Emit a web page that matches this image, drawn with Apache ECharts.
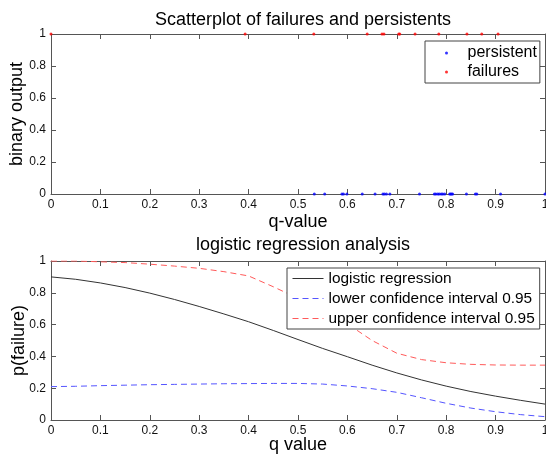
<!DOCTYPE html>
<html><head><meta charset="utf-8">
<script src="https://cdn.jsdelivr.net/npm/echarts@6/dist/echarts.min.js"></script>
<style>html,body{margin:0;padding:0;background:#fff}#c{width:546px;height:460px}</style>
</head><body><div id="c"></div>
<script>
// Top panel: q-values of observations
var failureQ = [0.0, 0.393, 0.532, 0.640, 0.670, 0.674, 0.704, 0.706, 0.737, 0.785, 0.842, 0.872, 0.905];
var persistentQ = [0.533, 0.554, 0.589, 0.592, 0.599, 0.630, 0.656, 0.672, 0.675, 0.679, 0.686, 0.746, 0.776, 0.779, 0.783, 0.786, 0.790, 0.793, 0.797, 0.807, 0.809, 0.811, 0.813, 0.841, 0.859, 0.862, 0.910, 1.0];
// Bottom panel: curves
var qGrid = [0, 0.05, 0.1, 0.15, 0.2, 0.25, 0.3, 0.35, 0.4, 0.45, 0.5, 0.55, 0.6, 0.65, 0.7, 0.75, 0.8, 0.85, 0.9, 0.95, 1.0];
var logisticP = [0.90, 0.885, 0.862, 0.833, 0.798, 0.758, 0.714, 0.667, 0.618, 0.563, 0.506, 0.450, 0.398, 0.345, 0.296, 0.252, 0.213, 0.179, 0.150, 0.124, 0.100];
var lowerCI = [0.210, 0.212, 0.216, 0.219, 0.222, 0.224, 0.226, 0.228, 0.229, 0.230, 0.230, 0.226, 0.214, 0.197, 0.174, 0.140, 0.105, 0.075, 0.052, 0.034, 0.021];
var upperCI = [1.0, 1.0, 0.995, 0.990, 0.980, 0.968, 0.954, 0.933, 0.906, 0.838, 0.765, 0.690, 0.605, 0.500, 0.420, 0.380, 0.360, 0.350, 0.346, 0.345, 0.345];
var xTicks = [0, 0.1, 0.2, 0.3, 0.4, 0.5, 0.6, 0.7, 0.8, 0.9, 1];
var yTicks = [0, 0.2, 0.4, 0.6, 0.8, 1];

var FONT = '"Liberation Sans", Arial, sans-serif';
var AX = '#555';
function pairs(xs, ys) { return xs.map(function (x, i) { return [x, ys[i]]; }); }
function xAx(grid, pos, name, gap) {
  return {
    type: 'value', gridIndex: grid, position: pos, min: 0, max: 1, interval: 0.1,
    name: name, nameLocation: 'middle', nameGap: gap, nameMoveOverlap: false,
    nameTextStyle: { fontFamily: FONT, fontSize: 18, color: '#000' },
    axisLine: { show: true, onZero: false, lineStyle: { color: AX, width: 1 } },
    axisTick: { show: true, inside: true, length: 5, lineStyle: { color: AX } },
    axisLabel: { show: pos === 'bottom', fontFamily: FONT, fontSize: 12, color: '#111', margin: 5 },
    splitLine: { show: false }
  };
}
function yAx(grid, pos, name, gap) {
  return {
    type: 'value', gridIndex: grid, position: pos, min: 0, max: 1, interval: 0.2,
    name: name, nameLocation: 'middle', nameGap: gap, nameMoveOverlap: false,
    nameTextStyle: { fontFamily: FONT, fontSize: 18, color: '#000' },
    axisLine: { show: true, onZero: false, lineStyle: { color: AX, width: 1 } },
    axisTick: { show: true, inside: true, length: 5, lineStyle: { color: AX } },
    axisLabel: { show: pos === 'left', fontFamily: FONT, fontSize: 12, color: '#111', margin: 5 },
    splitLine: { show: false }
  };
}
var chart = echarts.init(document.getElementById('c'), null, { renderer: 'canvas' });
chart.setOption({
  animation: false,
  backgroundColor: '#fff',
  title: [
    { text: 'Scatterplot of failures and persistents', left: 298, textAlign: 'center', top: 6,
      textStyle: { fontFamily: FONT, fontSize: 18, fontWeight: 'normal', color: '#000' } },
    { text: 'logistic regression analysis', left: 298, textAlign: 'center', top: 231,
      textStyle: { fontFamily: FONT, fontSize: 18, fontWeight: 'normal', color: '#000' } }
  ],
  grid: [
    { left: 51, right: 1, top: 34, bottom: 266, containLabel: false, outerBoundsMode: 'none' },
    { left: 51, right: 1, top: 261, bottom: 40, containLabel: false, outerBoundsMode: 'none' }
  ],
  xAxis: [
    xAx(0, 'bottom', 'q-value', 19), xAx(0, 'top', '', 0),
    xAx(1, 'bottom', 'q value', 16), xAx(1, 'top', '', 0)
  ],
  yAxis: [
    yAx(0, 'left', 'binary output', 25), yAx(0, 'right', '', 0),
    yAx(1, 'left', 'p(failure)', 23), yAx(1, 'right', '', 0)
  ],
  legend: [
    { data: [{ name: 'persistent', icon: 'circle' }, { name: 'failures', icon: 'circle' }],
      orient: 'vertical', left: 425, top: 41, itemWidth: 32, itemHeight: 3, itemGap: 3,
      padding: [4, 3, 3, 20], borderColor: '#444', borderWidth: 1, backgroundColor: '#fff',
      textStyle: { fontFamily: FONT, fontSize: 16, color: '#000' } },
    { data: ['logistic regression', 'lower confidence interval 0.95', 'upper confidence interval 0.95'],
      orient: 'vertical', left: 287, top: 268, itemWidth: 31, itemHeight: 14, itemGap: 5,
      padding: [3, 5, 3, 5], borderColor: '#444', borderWidth: 1, backgroundColor: '#fff',
      itemStyle: { opacity: 0 }, lineStyle: { width: 1 },
      textStyle: { fontFamily: FONT, fontSize: 15.4, color: '#000' } }
  ],
  series: [
    { name: 'persistent', type: 'scatter', xAxisIndex: 0, yAxisIndex: 0, symbol: 'circle', symbolSize: 3,
      itemStyle: { color: '#0000ff' }, clip: false,
      data: persistentQ.map(function (q) { return [q, 0]; }) },
    { name: 'failures', type: 'scatter', xAxisIndex: 0, yAxisIndex: 0, symbol: 'circle', symbolSize: 3,
      itemStyle: { color: '#ff0000' }, clip: false,
      data: failureQ.map(function (q) { return [q, 1]; }) },
    { name: 'logistic regression', type: 'line', xAxisIndex: 2, yAxisIndex: 2, symbol: 'none',
      lineStyle: { color: '#333', width: 1 }, itemStyle: { color: '#333' },
      data: pairs(qGrid, logisticP) },
    { name: 'lower confidence interval 0.95', type: 'line', xAxisIndex: 2, yAxisIndex: 2, symbol: 'none',
      lineStyle: { color: '#5555ff', width: 1, type: [6, 4] }, itemStyle: { color: '#5555ff' },
      data: pairs(qGrid, lowerCI) },
    { name: 'upper confidence interval 0.95', type: 'line', xAxisIndex: 2, yAxisIndex: 2, symbol: 'none',
      lineStyle: { color: '#ff5a5a', width: 1, type: [6, 4] }, itemStyle: { color: '#ff5a5a' },
      data: pairs(qGrid, upperCI) }
  ]
});
</script></body></html>
